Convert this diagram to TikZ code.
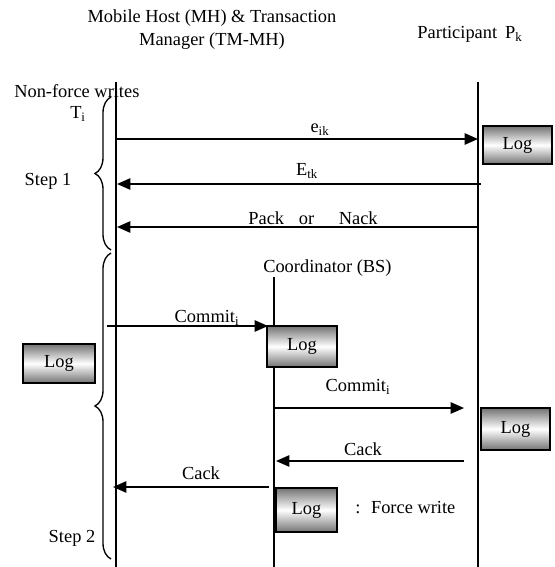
\documentclass[tikz,border=0pt]{standalone}
\usepackage{fontspec}
\setmainfont{Liberation Serif}
\usetikzlibrary{arrows.meta,decorations.pathreplacing}
\begin{document}
\begin{tikzpicture}[x=0.75pt,y=-0.75pt,
  every node/.style={font=\fontsize{13.8}{17.3}\selectfont, inner sep=0pt},
  lifeline/.style={line width=1.1pt},
  thinlife/.style={line width=0.8pt},
  msg/.style={line width=1.2pt, -{Triangle[length=10pt,width=8.5pt]}, shorten >=0pt},
  logbox/.style={draw, line width=1.1pt, top color=black!55, bottom color=black!55, middle color=white, inner sep=0pt},
  bracepath/.style={line width=1pt, decorate, decoration={brace, amplitude=12pt}},
  lbl/.style={anchor=center}
]
\useasboundingbox (0,0) rectangle (554,567);

% titles
\node[align=center] (title) at (212,30) {Mobile Host (MH) \& Transaction\\Manager (TM-MH)};
\node (part) at (470,34) {Participant\hspace{6pt}P\textsubscript{k}};
\node[anchor=west] (nfw) at (14,91) {Non-force writes};
\node (ti) at (78,114) {T\textsubscript{i}};
\node (step1) at (48,181) {Step 1};
\node (step2) at (72,538) {Step 2};
\node[anchor=west] (coord) at (263,268) {Coordinator (BS)};

% lifelines
\coordinate (mhtop) at (116,82);
\coordinate (mhbot) at (116,567);
\coordinate (pktop) at (478,82);
\coordinate (pkbot) at (478,567);
\coordinate (bstop) at (274,277);
\coordinate (bsbot) at (274,567);
\draw[lifeline] (mhtop) -- (mhbot);
\draw[lifeline] (pktop) -- (pkbot);
\draw[thinlife] (bstop) -- (bsbot);

% braces
\coordinate (b1top) at (111,97);
\coordinate (b1bot) at (111,250);
\coordinate (b2top) at (111,253);
\coordinate (b2bot) at (111,559);
\draw[bracepath] (b1bot) -- (b1top);
\draw[bracepath] (b2bot) -- (b2top);

% log boxes
\node[logbox, minimum width=51.75pt, minimum height=28.5pt] (log1) at (517.5,145) {Log};
\node[logbox, minimum width=52.5pt, minimum height=30.75pt] (logbs) at (302,346.5) {Log};
\node[logbox, minimum width=54pt, minimum height=29.25pt] (logmh) at (59,363.5) {Log};
\node[logbox, minimum width=51.75pt, minimum height=31.5pt] (logpk) at (515.5,429) {Log};
\node[logbox, minimum width=45.75pt, minimum height=33pt] (loglegend) at (306.5,510) {Log};
\node[anchor=west] (legend) at (355,508) {:\hspace{8pt}Force write};

% message end points
\coordinate (a1s) at (116,139);  \coordinate (a1e) at (478,139);
\coordinate (a2s) at (481,184);  \coordinate (a2e) at (117,184);
\coordinate (a3s) at (478,227);  \coordinate (a3e) at (117,227);
\coordinate (a4s) at (107,326);  \coordinate (a4e) at (268,326);
\coordinate (a5s) at (275,408);  \coordinate (a5e) at (464,408);
\coordinate (a6s) at (464,461);  \coordinate (a6e) at (276,461);
\coordinate (a7s) at (269,487);  \coordinate (a7e) at (113,487);

\draw[msg] (a1s) -- (a1e);
\draw[msg] (a2s) -- (a2e);
\draw[msg] (a3s) -- (a3e);
\draw[msg] (a4s) -- (a4e);
\draw[msg] (a5s) -- (a5e);
\draw[msg] (a6s) -- (a6e);
\draw[msg] (a7s) -- (a7e);

% labels
\node (l1) at (320,130) {e\textsubscript{ik}};
\node (l2) at (307,171) {E\textsubscript{tk}};
\node (l3) at (313,218) {Pack\hspace{11pt}or\hspace{18.5pt}Nack};
\node (l4) at (207,318) {Commit\textsubscript{i}};
\node (l5) at (358,387) {Commit\textsubscript{i}};
\node (l6) at (363,449) {Cack};
\node (l7) at (201,473) {Cack};
\end{tikzpicture}
\end{document}
